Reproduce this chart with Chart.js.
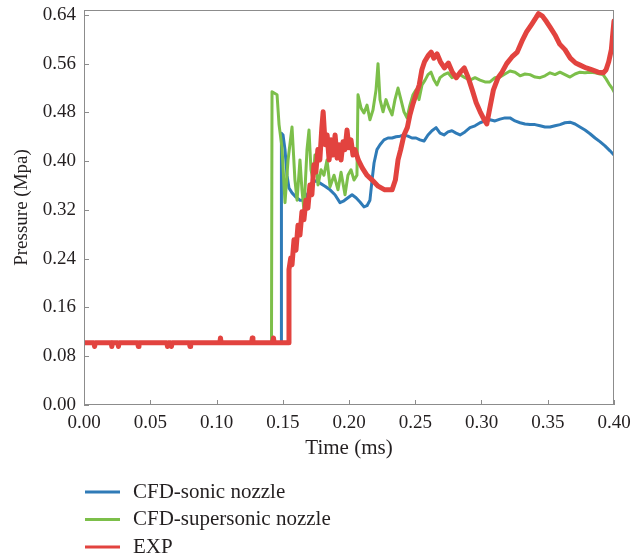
<!DOCTYPE html>
<html>
<head>
<meta charset="utf-8">
<script src="https://cdn.jsdelivr.net/npm/chart.js@4.4.1/dist/chart.umd.min.js"></script>
<style>
html,body{margin:0;padding:0;background:#ffffff;}
canvas{display:block;}
</style>
</head>
<body>
<canvas id="c" width="631" height="556"></canvas>
<script>
// ---------- data ----------
const xTickValues = [0.00, 0.05, 0.10, 0.15, 0.20, 0.25, 0.30, 0.35, 0.40];
const yTickValues = [0.00, 0.08, 0.16, 0.24, 0.32, 0.40, 0.48, 0.56, 0.64];
const seriesNames = ['CFD-sonic nozzle', 'CFD-supersonic nozzle', 'EXP'];

const sonicTime = [0, 0.1487, 0.1490, 0.1502, 0.1517, 0.1532, 0.1547, 0.1570, 0.1600, 0.1630, 0.1660, 0.1691, 0.1721, 0.1751, 0.1781, 0.1819, 0.1857, 0.1894, 0.1932, 0.1962, 0.1992, 0.2023, 0.2053, 0.2083, 0.2113, 0.2136, 0.2158, 0.2174, 0.2189, 0.2211, 0.2234, 0.2264, 0.2294, 0.2325, 0.2355, 0.2385, 0.2415, 0.2445, 0.2475, 0.2506, 0.2536, 0.2566, 0.2596, 0.2626, 0.2657, 0.2687, 0.2717, 0.2747, 0.2777, 0.2808, 0.2838, 0.2875, 0.2913, 0.2951, 0.2989, 0.3026, 0.3064, 0.3102, 0.3140, 0.3177, 0.3215, 0.3253, 0.3291, 0.3328, 0.3366, 0.3404, 0.3442, 0.3479, 0.3517, 0.3555, 0.3592, 0.3630, 0.3668, 0.3706, 0.3743, 0.3781, 0.3819, 0.3857, 0.3894, 0.3932, 0.3970, 0.4000];
const sonicPressure = [0.102, 0.102, 0.446, 0.443, 0.419, 0.377, 0.356, 0.348, 0.341, 0.336, 0.336, 0.348, 0.364, 0.368, 0.364, 0.359, 0.353, 0.345, 0.332, 0.335, 0.340, 0.345, 0.340, 0.333, 0.325, 0.327, 0.336, 0.369, 0.397, 0.419, 0.427, 0.435, 0.438, 0.438, 0.440, 0.441, 0.443, 0.441, 0.438, 0.438, 0.435, 0.433, 0.443, 0.450, 0.455, 0.446, 0.443, 0.448, 0.450, 0.446, 0.443, 0.448, 0.455, 0.458, 0.463, 0.466, 0.468, 0.466, 0.469, 0.471, 0.471, 0.466, 0.463, 0.461, 0.460, 0.460, 0.458, 0.456, 0.456, 0.458, 0.460, 0.463, 0.464, 0.461, 0.456, 0.451, 0.445, 0.438, 0.432, 0.425, 0.417, 0.410];

const supersonicTime = [0, 0.1415, 0.1419, 0.1457, 0.1472, 0.1494, 0.1517, 0.1540, 0.1570, 0.1592, 0.1608, 0.1630, 0.1645, 0.1660, 0.1683, 0.1698, 0.1713, 0.1728, 0.1743, 0.1766, 0.1789, 0.1811, 0.1834, 0.1857, 0.1887, 0.1917, 0.1940, 0.1970, 0.1992, 0.2015, 0.2038, 0.2060, 0.2068, 0.2091, 0.2113, 0.2136, 0.2158, 0.2181, 0.2204, 0.2219, 0.2234, 0.2257, 0.2279, 0.2302, 0.2325, 0.2347, 0.2370, 0.2392, 0.2415, 0.2438, 0.2460, 0.2483, 0.2506, 0.2528, 0.2551, 0.2574, 0.2596, 0.2619, 0.2642, 0.2664, 0.2687, 0.2717, 0.2747, 0.2777, 0.2808, 0.2838, 0.2875, 0.2913, 0.2951, 0.2989, 0.3026, 0.3064, 0.3102, 0.3140, 0.3177, 0.3215, 0.3253, 0.3291, 0.3328, 0.3366, 0.3404, 0.3442, 0.3479, 0.3517, 0.3555, 0.3592, 0.3630, 0.3668, 0.3706, 0.3743, 0.3781, 0.3819, 0.3857, 0.3894, 0.3917, 0.3940, 0.3962, 0.3985, 0.4000];
const supersonicPressure = [0.102, 0.102, 0.514, 0.509, 0.460, 0.423, 0.332, 0.402, 0.456, 0.369, 0.336, 0.402, 0.353, 0.320, 0.419, 0.451, 0.386, 0.369, 0.410, 0.361, 0.386, 0.377, 0.402, 0.358, 0.377, 0.353, 0.382, 0.345, 0.377, 0.386, 0.369, 0.377, 0.509, 0.487, 0.479, 0.492, 0.468, 0.484, 0.517, 0.560, 0.501, 0.481, 0.501, 0.487, 0.476, 0.501, 0.520, 0.501, 0.481, 0.471, 0.492, 0.509, 0.517, 0.501, 0.525, 0.533, 0.542, 0.546, 0.533, 0.525, 0.537, 0.542, 0.545, 0.537, 0.540, 0.542, 0.537, 0.533, 0.537, 0.533, 0.530, 0.530, 0.537, 0.538, 0.543, 0.548, 0.546, 0.540, 0.543, 0.542, 0.538, 0.537, 0.540, 0.545, 0.542, 0.546, 0.542, 0.538, 0.543, 0.546, 0.545, 0.546, 0.545, 0.543, 0.542, 0.535, 0.527, 0.520, 0.514];

const expTime = [0.000, 0.0075, 0.008, 0.0085, 0.0205, 0.021, 0.0215, 0.0255, 0.026, 0.0265, 0.0405, 0.041, 0.0415, 0.0625, 0.063, 0.0635, 0.0655, 0.066, 0.0665, 0.0795, 0.080, 0.0805, 0.1025, 0.103, 0.1035, 0.1265, 0.127, 0.1275, 0.1425, 0.143, 0.1435, 0.154, 0.1547, 0.156, 0.157, 0.1585, 0.160, 0.1615, 0.163, 0.1645, 0.166, 0.1675, 0.169, 0.1705, 0.172, 0.1735, 0.175, 0.1765, 0.178, 0.1795, 0.1805, 0.182, 0.1835, 0.185, 0.1865, 0.188, 0.1895, 0.191, 0.1925, 0.194, 0.1955, 0.197, 0.1985, 0.200, 0.2015, 0.203, 0.2045, 0.207, 0.210, 0.2135, 0.2175, 0.222, 0.227, 0.2325, 0.235, 0.237, 0.239, 0.2415, 0.244, 0.246, 0.248, 0.2505, 0.253, 0.255, 0.257, 0.260, 0.262, 0.264, 0.2665, 0.269, 0.272, 0.275, 0.278, 0.281, 0.284, 0.287, 0.290, 0.293, 0.296, 0.299, 0.302, 0.304, 0.306, 0.309, 0.3125, 0.3155, 0.319, 0.323, 0.327, 0.331, 0.334, 0.338, 0.341, 0.343, 0.346, 0.349, 0.352, 0.3555, 0.359, 0.363, 0.367, 0.371, 0.374, 0.379, 0.383, 0.388, 0.392, 0.394, 0.396, 0.398, 0.399, 0.400];
const expPressure = [0.102, 0.102, 0.096, 0.102, 0.102, 0.096, 0.102, 0.102, 0.096, 0.102, 0.102, 0.096, 0.102, 0.102, 0.096, 0.102, 0.102, 0.096, 0.102, 0.102, 0.096, 0.102, 0.102, 0.110, 0.102, 0.102, 0.110, 0.102, 0.102, 0.110, 0.102, 0.102, 0.222, 0.241, 0.230, 0.271, 0.254, 0.295, 0.279, 0.317, 0.304, 0.336, 0.323, 0.361, 0.345, 0.394, 0.382, 0.419, 0.402, 0.455, 0.481, 0.427, 0.443, 0.402, 0.435, 0.410, 0.443, 0.405, 0.427, 0.402, 0.432, 0.419, 0.451, 0.422, 0.435, 0.410, 0.419, 0.402, 0.389, 0.377, 0.369, 0.359, 0.353, 0.353, 0.369, 0.402, 0.419, 0.443, 0.455, 0.476, 0.492, 0.509, 0.525, 0.550, 0.563, 0.574, 0.579, 0.569, 0.576, 0.563, 0.553, 0.561, 0.546, 0.537, 0.546, 0.553, 0.537, 0.517, 0.496, 0.481, 0.468, 0.461, 0.484, 0.517, 0.537, 0.546, 0.560, 0.571, 0.579, 0.599, 0.612, 0.625, 0.635, 0.642, 0.638, 0.629, 0.619, 0.607, 0.592, 0.583, 0.569, 0.561, 0.558, 0.553, 0.550, 0.546, 0.545, 0.550, 0.563, 0.583, 0.607, 0.630];

// ---------- styling ----------
const seriesColors = ['#2f7bb7', '#7cbf4a', '#e2433f'];
const seriesWidths = [3, 3, 5];
const FONT = "'Liberation Serif', 'Times New Roman', serif";
const TEXT = '#231f20';
const AXIS = '#8c8c8c';
const TICK_SIZE = 19;
const TITLE_SIZE = 21;
const LEGEND_SIZE = 21;

function zip(xs, ys) { return xs.map((x, i) => ({ x: x, y: ys[i] })); }

const series = [
  zip(sonicTime, sonicPressure),
  zip(supersonicTime, supersonicPressure),
  zip(expTime, expPressure)
];

const framePlugin = {
  id: 'frameTicksLegend',
  afterDatasetsDraw(chart) {
    const { ctx, chartArea: a, scales } = chart;
    ctx.save();
    ctx.strokeStyle = AXIS;
    ctx.lineWidth = 1;
    ctx.strokeRect(Math.round(a.left) + 0.5, Math.round(a.top) + 0.5,
                   Math.round(a.right - a.left) - 1, Math.round(a.bottom - a.top) - 1);
    ctx.beginPath();
    scales.x.ticks.forEach(t => {
      const px = Math.round(scales.x.getPixelForValue(t.value)) + 0.5;
      ctx.moveTo(px, a.bottom);
      ctx.lineTo(px, a.bottom - 5);
    });
    scales.y.ticks.forEach(t => {
      const py = Math.round(scales.y.getPixelForValue(t.value)) + 0.5;
      ctx.moveTo(a.left, py);
      ctx.lineTo(a.left + 5, py);
    });
    ctx.stroke();

    // legend (vertical list, bottom-left)
    ctx.font = LEGEND_SIZE + 'px ' + FONT;
    ctx.textBaseline = 'middle';
    ctx.textAlign = 'left';
    chart.data.datasets.forEach((ds, i) => {
      const yy = 492 + i * 27.5;
      ctx.strokeStyle = ds.borderColor;
      ctx.lineWidth = 3;
      ctx.beginPath();
      ctx.moveTo(85, yy);
      ctx.lineTo(120, yy);
      ctx.stroke();
      ctx.fillStyle = TEXT;
      ctx.fillText(ds.label, 133, yy);
    });
    ctx.restore();
  }
};

new Chart(document.getElementById('c'), {
  type: 'line',
  data: {
    datasets: series.map((d, i) => ({
      label: seriesNames[i],
      data: d,
      borderColor: seriesColors[i],
      backgroundColor: seriesColors[i],
      borderWidth: seriesWidths[i],
      pointRadius: 0,
      tension: 0,
      fill: false,
      order: 2 - i,
      borderJoinStyle: 'round',
      borderCapStyle: 'round'
    }))
  },
  options: {
    responsive: false,
    animation: false,
    devicePixelRatio: 1,
    layout: { padding: { left: 0, right: 17, top: 10, bottom: 93 } },
    plugins: { legend: { display: false }, tooltip: { enabled: false } },
    scales: {
      x: {
        type: 'linear',
        min: 0, max: 0.4,
        afterBuildTicks: s => { s.ticks = xTickValues.map(v => ({ value: v })); },
        afterFit: s => { s.height = 58; s.paddingLeft = 0; s.paddingRight = 0; },
        grid: { display: false, drawTicks: false },
        border: { display: false },
        ticks: {
          padding: 7,
          maxRotation: 0,
          autoSkip: false,
          color: TEXT,
          font: { family: FONT, size: TICK_SIZE },
          callback: v => Number(v).toFixed(2)
        },
        title: {
          display: true, text: 'Time (ms)', color: TEXT,
          font: { family: FONT, size: TITLE_SIZE },
          padding: { top: 0, bottom: 2 }
        }
      },
      y: {
        type: 'linear',
        min: 0, max: 0.648,
        afterBuildTicks: s => { s.ticks = yTickValues.map(v => ({ value: v })); },
        afterFit: s => { s.width = 84; s.paddingTop = 0; s.paddingBottom = 0; },
        grid: { display: false, drawTicks: false },
        border: { display: false },
        ticks: {
          padding: 8,
          autoSkip: false,
          color: TEXT,
          font: { family: FONT, size: TICK_SIZE },
          callback: v => Number(v).toFixed(2)
        },
        title: {
          display: true, text: 'Pressure (Mpa)', color: TEXT,
          font: { family: FONT, size: 19 },
          padding: { top: 11, bottom: 0 }
        }
      }
    }
  },
  plugins: [framePlugin]
});
</script>
</body>
</html>
